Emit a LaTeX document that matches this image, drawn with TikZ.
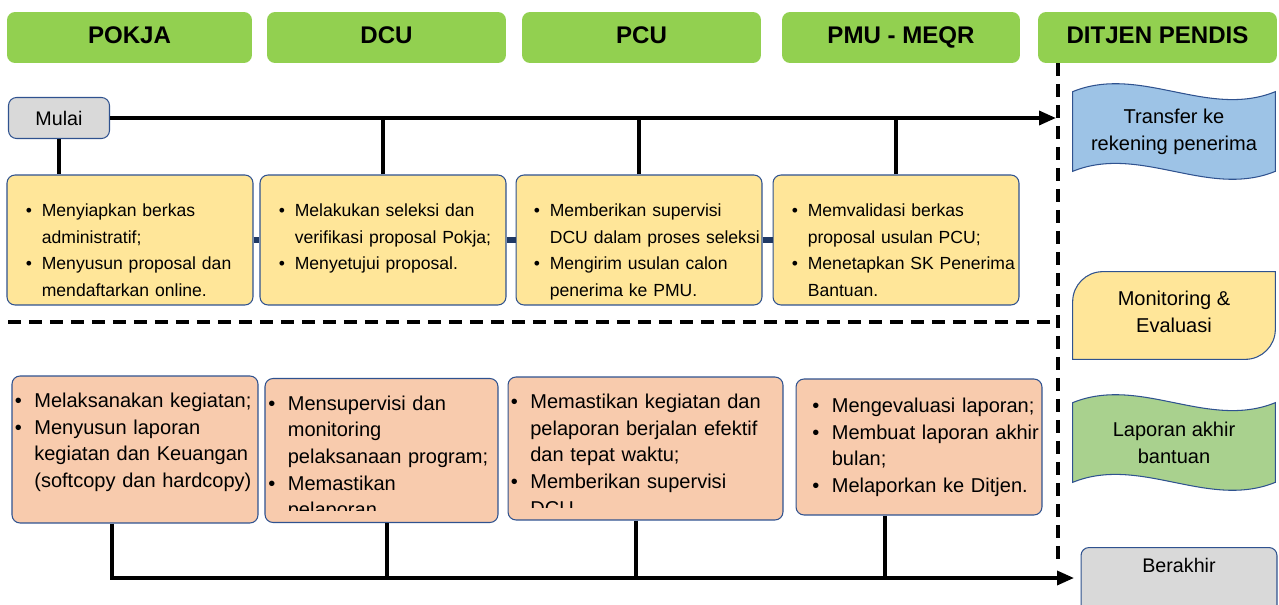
\documentclass[tikz,border=0pt]{standalone}
\usepackage{fontspec}
\setmainfont{Liberation Sans}
\usepackage{xcolor}
\usepackage{tikz}
\usetikzlibrary{positioning,calc,arrows.meta}

\definecolor{headgreen}{HTML}{92D050}
\definecolor{boxyellow}{HTML}{FFE699}
\definecolor{boxorange}{HTML}{F8CBAD}
\definecolor{boxblue}{HTML}{9DC3E6}
\definecolor{boxgreen}{HTML}{A9D18E}
\definecolor{boxgray}{HTML}{D9D9D9}
\definecolor{edgeblue}{HTML}{2F528F}
\definecolor{linknavy}{HTML}{1F3864}

% one bullet item, later lines hang under the text
\newcommand{\itm}[2][0.32cm]{\par\begingroup\let\\\newline
  \hangindent=#1\hangafter=1\noindent\strut\makebox[#1][l]{\textbullet}#2\par\endgroup}

% wavy banner drawn round an (empty) node
\newcommand{\wavebox}[2]{%
  \filldraw[draw=edgeblue, line width=0.6pt, fill=#2]
    (#1.north west) .. controls ([xshift=1.35cm,yshift=0.55cm]#1.north west)
      and ([xshift=-1.35cm,yshift=-0.55cm]#1.north east) .. (#1.north east)
    -- (#1.south east) .. controls ([xshift=-1.35cm,yshift=-0.55cm]#1.south east)
      and ([xshift=1.35cm,yshift=0.55cm]#1.south west) .. (#1.south west)
    -- cycle;}

\tikzset{
  head/.style={fill=headgreen, rounded corners=0.16cm, minimum height=1.02cm,
    text height=0.34cm, text depth=0.08cm,
    font=\bfseries\fontsize{13.7}{16}\selectfont},
  startend/.style={draw=edgeblue, line width=0.6pt, fill=boxgray, rounded corners=0.16cm,
    font=\fontsize{11.2}{14}\selectfont},
  taskbox/.style={draw=edgeblue, line width=0.6pt, fill=boxyellow, rounded corners=0.16cm,
    minimum width=4.92cm, minimum height=2.6cm},
  reportbox/.style={draw=edgeblue, line width=0.6pt, fill=boxorange, rounded corners=0.16cm},
  tasktext/.style={anchor=north west, inner sep=0pt, text width=5cm,
    font=\fontsize{10}{15.2}\selectfont},
  reporttext/.style={anchor=north west, inner sep=0pt, text width=5.6cm,
    font=\fontsize{11.4}{15.2}\selectfont},
  sidearea/.style={minimum width=4.04cm, minimum height=1.58cm},
  sidetext/.style={align=center, font=\fontsize{11.4}{15.2}\selectfont},
  flow/.style={line width=0.07cm},
  flowarrow/.style={flow, -{Triangle[length=0.34cm,width=0.28cm]}},
  link/.style={draw=linknavy, line width=0.12cm},
  divider/.style={line width=0.09cm, dash pattern=on 0.26cm off 0.16cm},
}

\begin{document}
\begin{tikzpicture}[x=0.02cm,y=-0.02cm]
\useasboundingbox (0,0) rectangle (1279,605);

% lane heads
\node[head, minimum width=4.9cm] (pokja) at (129.5,37.5) {POKJA};
\node[head, minimum width=4.78cm] (dcu) at (386.5,37.5) {DCU};
\node[head, minimum width=4.78cm] (pcu) at (641.5,37.5) {PCU};
\node[head, minimum width=4.76cm] (pmu) at (901,37.5) {PMU - MEQR};
\node[head, minimum width=4.78cm] (ditjen) at (1157.5,37.5) {DITJEN PENDIS};

% lane dividers
\coordinate (vtop) at (1058,63);
\coordinate (vbot) at (1058,560);
\coordinate (hleft) at (8,322);
\coordinate (hright) at (1058,322);
\draw[divider] (vtop) -- (vbot);
\draw[divider] (hleft) -- (hright);

\node[startend, minimum width=2.02cm, minimum height=0.82cm] (mulai) at (59,118) {Mulai};

% selection stage
\node[taskbox] (y1) at (130,240) {};
\node[taskbox] (y2) at (383,240) {};
\node[taskbox] (y3) at (639,240) {};
\node[taskbox] (y4) at (896,240) {};

\node[tasktext] (y1t) at ([xshift=0.38cm,yshift=-0.3cm]y1.north west)
  {\itm{Menyiapkan berkas\\administratif;}\itm{Menyusun proposal dan\\mendaftarkan online.}};
\node[tasktext] (y2t) at ([xshift=0.38cm,yshift=-0.3cm]y2.north west)
  {\itm{Melakukan seleksi dan\\verifikasi proposal Pokja;}\itm{Menyetujui proposal.}};
\node[tasktext] (y3t) at ([xshift=0.36cm,yshift=-0.3cm]y3.north west)
  {\itm{Memberikan supervisi\\DCU dalam proses seleksi}\itm{Mengirim usulan calon\\penerima ke PMU.}};
\node[tasktext] (y4t) at ([xshift=0.38cm,yshift=-0.3cm]y4.north west)
  {\itm{Memvalidasi berkas\\proposal usulan PCU;}\itm{Menetapkan SK Penerima\\Bantuan.}};

\draw[link] (y1.east) -- (y2.west);
\draw[link] (y2.east) -- (y3.west);
\draw[link] (y3.east) -- (y4.west);

\coordinate (topend) at (1056,118);
\draw[flowarrow] (mulai.east) -- (topend);
\draw[flow] (mulai.south) -- (mulai.south |- y1.north);
\draw[flow] (y2.north) -- (y2.north |- mulai.east);
\draw[flow] (y3.north) -- (y3.north |- mulai.east);
\draw[flow] (y4.north) -- (y4.north |- mulai.east);

% reporting stage
\node[reportbox, minimum width=4.92cm, minimum height=2.94cm] (o1) at (135,449.5) {};
\node[reportbox, minimum width=4.66cm, minimum height=2.88cm] (o2) at (381.5,450.5) {};
\node[reportbox, minimum width=5.5cm, minimum height=2.86cm] (o3) at (645.5,448.5) {};
\node[reportbox, minimum width=4.92cm, minimum height=2.72cm] (o4) at (919,447) {};

\node[reporttext] (o1t) at ([xshift=0.06cm,yshift=-0.1cm]o1.north west)
  {\itm[0.39cm]{Melaksanakan kegiatan;}\itm[0.39cm]{Menyusun laporan\\kegiatan dan Keuangan\\(softcopy dan hardcopy)}};
\begin{scope}
\clip (o2.north west) rectangle ([yshift=0.26cm]o2.south east);
\node[reporttext] (o2t) at ([xshift=0.07cm,yshift=-0.1cm]o2.north west)
  {\itm[0.39cm]{Mensupervisi dan\\monitoring\\pelaksanaan program;}\itm[0.39cm]{Memastikan\\pelaporan}};
\end{scope}
\begin{scope}
\clip (o3.north west) rectangle ([yshift=0.26cm]o3.south east);
\node[reporttext] (o3t) at ([xshift=0.06cm,yshift=-0.1cm]o3.north west)
  {\itm[0.39cm]{Memastikan kegiatan dan\\pelaporan berjalan efektif\\dan tepat waktu;}\itm[0.39cm]{Memberikan supervisi\\DCU}};
\end{scope}
\node[reporttext] (o4t) at ([xshift=0.33cm,yshift=-0.14cm]o4.north west)
  {\itm[0.39cm]{Mengevaluasi laporan;}\itm[0.39cm]{Membuat laporan akhir\\bulan;}\itm[0.39cm]{Melaporkan ke Ditjen.}};

\coordinate (botend) at (1074,578);
\coordinate (o1drop) at ([xshift=-0.46cm]o1.south);
\coordinate (o2drop) at ([xshift=0.11cm]o2.south);
\coordinate (o3drop) at ([xshift=-0.19cm]o3.south);
\coordinate (o4drop) at ([xshift=-0.68cm]o4.south);
\draw[flowarrow] (o1drop) |- (botend);
\draw[flow] (o2drop) -- (o2drop |- botend);
\draw[flow] (o3drop) -- (o3drop |- botend);
\draw[flow] (o4drop) -- (o4drop |- botend);

% Ditjen lane
\path node[sidearea] (transfer) at (1174,131.5) {};
\wavebox{transfer}{boxblue}
\node[sidetext] (transfertext) at (transfer.center) {Transfer ke\\rekening penerima};

\path node[minimum width=4.04cm, minimum height=1.74cm] (moneval) at (1174,315.5) {};
\filldraw[draw=edgeblue, line width=0.6pt, fill=boxyellow]
  (moneval.south west) -- ([yshift=-0.6cm]moneval.north west)
  .. controls ([yshift=-0.27cm]moneval.north west) and ([xshift=0.27cm]moneval.north west)
  .. ([xshift=0.6cm]moneval.north west)
  -- (moneval.north east) -- ([yshift=0.6cm]moneval.south east)
  .. controls ([yshift=0.27cm]moneval.south east) and ([xshift=-0.27cm]moneval.south east)
  .. ([xshift=-0.6cm]moneval.south east)
  -- cycle;
\node[sidetext] (monevaltext) at ([yshift=0.08cm]moneval.center) {Monitoring \&\\Evaluasi};

\path node[sidearea] (laporan) at (1174,442.5) {};
\wavebox{laporan}{boxgreen}
\node[sidetext] (laporantext) at (laporan.center) {Laporan akhir\\bantuan};

\node[startend, anchor=north, minimum width=3.92cm, text height=0.34cm, text depth=1.2cm,
  inner ysep=0.15cm] (berakhir) at (1179,547) {Berakhir};
\end{tikzpicture}
\end{document}
